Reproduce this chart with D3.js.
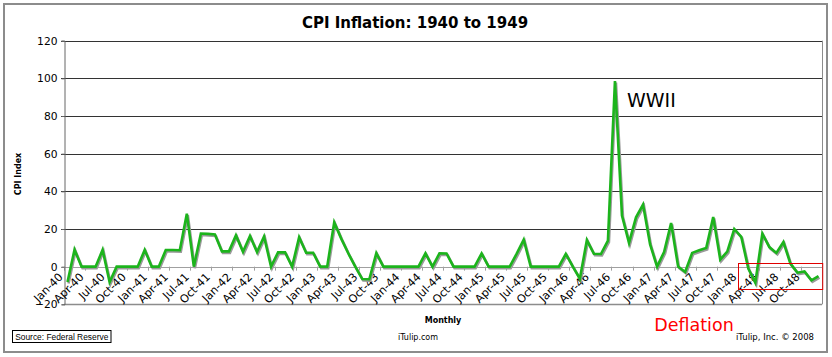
<!DOCTYPE html>
<html><head><meta charset="utf-8">
<script src="https://cdn.jsdelivr.net/npm/d3@7"></script>
<style>
body{margin:0;background:#fff}
svg{display:block}
text{font-family:"DejaVu Sans",Verdana,sans-serif}
</style>
</head><body>
<svg id="chart" width="832" height="357"></svg>
<script>
// ---- data ----
const years = ["40","41","42","43","44","45","46","47","48"];
const months = ["Jan","Feb","Mar","Apr","May","Jun","Jul","Aug","Sep","Oct","Nov","Dec"];
const cpi1940 = [-8.2, 9.0, 0, 0, 0, 8.9, -8.2, 0, 0, 0, 0, 8.9];
const cpi1941 = [0, 0, 8.8, 8.8, 8.7, 28.1, 0, 17.6, 17.4, 17.1, 8.1, 8.1];
const cpi1942 = [16.6, 7.9, 16.3, 7.8, 16.0, 0, 7.6, 7.6, 0, 15.6, 7.4, 7.4];
const cpi1943 = [0, 0, 23.5, 14.9, 7.1, 0, -6.6, -6.7, 7.2, 0, 0, 0];
const cpi1944 = [0, 0, 0, 7.1, 0, 7.1, 7.0, 0, 0, 0, 0, 7.0];
const cpi1945 = [0, 0, 0, 0, 6.9, 14.3, 0, 0, 0, 0, 0, 6.8];
const cpi1946 = [0, -6.4, 14.1, 6.8, 6.7, 13.8, 98.6, 27.1, 12.6, 26.2, 33.0, 11.9];
const cpi1947 = [0, 7.8, 23.2, 0, -2.8, 7.3, 8.7, 9.9, 26.4, 3.8, 8.0, 20.0];
const cpi1948 = [15.8, -1.0, -8.5, 17.5, 10.4, 7.3, 13.1, 1.6, -3.2, -2.5, -7.3, -5.0];
const yTicks = [-20, 0, 20, 40, 60, 80, 100, 120];
const gridValues = [20, 40, 60, 80, 100, 120];

const categories = years.flatMap(y => months.map(m => m + "-" + y));
const values = [].concat(cpi1940, cpi1941, cpi1942, cpi1943, cpi1944, cpi1945, cpi1946, cpi1947, cpi1948);
const xTickLabels = categories.filter((c, i) => i % 3 === 0);
const series = categories.map((c, i) => ({cat: c, v: values[i]}));

// ---- layout ----
const svg = d3.select("#chart");
const L = 64, R = 822, T = 40.7, B = 304.3;
const x = d3.scaleBand().domain(categories).range([L, R]).paddingInner(0).paddingOuter(0);
const y = d3.scaleLinear().domain([-20, 120]).range([B, T]);
const bw = x.bandwidth();
const cx = c => x(c) + bw / 2;
const crisp = v => Math.round(v) + 0.5;

svg.append("rect").attr("x", 0).attr("y", 0).attr("width", 832).attr("height", 357).attr("fill", "#fff");
// outer frame
svg.append("rect").attr("x", 4).attr("y", 4).attr("width", 823).attr("height", 348)
  .attr("fill", "none").attr("stroke", "#8c8c8c").attr("stroke-width", 2);

// gridlines
svg.append("g").selectAll("line").data(gridValues).join("line")
  .attr("x1", L - 3).attr("x2", R)
  .attr("y1", d => crisp(y(d))).attr("y2", d => crisp(y(d)))
  .attr("stroke", "#333").attr("stroke-width", 1);

// plot border right & bottom
svg.append("line").attr("x1", crisp(R)).attr("x2", crisp(R)).attr("y1", T).attr("y2", B)
  .attr("stroke", "#8c8c8c").attr("stroke-width", 1);
svg.append("line").attr("x1", L).attr("x2", R).attr("y1", crisp(B)).attr("y2", crisp(B))
  .attr("stroke", "#8c8c8c").attr("stroke-width", 1.5);

// zero axis line
svg.append("line").attr("x1", L - 3).attr("x2", R).attr("y1", crisp(y(0))).attr("y2", crisp(y(0)))
  .attr("stroke", "#a0a0a0").attr("stroke-width", 1);
// category tick marks (every 3 months, at boundaries)
svg.append("g").selectAll("line").data(xTickLabels).join("line")
  .attr("x1", d => crisp(x(d))).attr("x2", d => crisp(x(d)))
  .attr("y1", y(0)).attr("y2", y(0) + 4)
  .attr("stroke", "#a0a0a0").attr("stroke-width", 1);

// y axis
const yAxis = svg.append("g").attr("transform", `translate(${L + 0.5},0)`)
  .call(d3.axisLeft(y).tickValues(yTicks).tickSize(3).tickPadding(4));
yAxis.select(".domain").attr("stroke", "#666");
yAxis.selectAll(".tick line").attr("stroke", "#666");
yAxis.selectAll("text").attr("font-size", "10.7px").attr("fill", "#000")
  .style("font-family", '"DejaVu Sans",Verdana,sans-serif');

// x labels (rotated)
const xAxis = svg.append("g").attr("transform", `translate(0,${y(0)})`)
  .call(d3.axisBottom(x).tickValues(xTickLabels).tickSize(0).tickPadding(0));
xAxis.select(".domain").remove();
xAxis.selectAll(".tick text")
  .attr("font-size", "11.2px").attr("fill", "#000")
  .style("font-family", '"DejaVu Sans",Verdana,sans-serif')
  .attr("text-anchor", "end").attr("dy", 0).attr("y", 0)
  .attr("transform", "translate(-4,11) rotate(-45)");

// line with shadow
const line = d3.line().x(d => cx(d.cat)).y(d => y(d.v));
svg.append("path").datum(series).attr("d", line)
  .attr("transform", "translate(1,1.5)")
  .attr("fill", "none").attr("stroke", "#9a9a9a").attr("stroke-width", 2.6)
  .attr("stroke-linejoin", "miter");
svg.append("path").datum(series).attr("d", line)
  .attr("fill", "none").attr("stroke", "#1cb41c").attr("stroke-width", 2.6)
  .attr("stroke-linejoin", "miter");

// deflation box
svg.append("rect")
  .attr("x", crisp(x("Jan-48"))).attr("y", crisp(263))
  .attr("width", R - x("Jan-48")).attr("height", 26)
  .attr("fill", "none").attr("stroke", "#e00000").attr("stroke-width", 1);

// texts
svg.append("text").attr("x", 415).attr("y", 28).attr("text-anchor", "middle")
  .attr("font-size", "15px").attr("font-weight", "bold").text("CPI Inflation: 1940 to 1949");
svg.append("text").attr("transform", "translate(21,174) rotate(-90)").attr("text-anchor", "middle")
  .attr("font-size", "8px").attr("font-weight", "bold").text("CPI Index");
svg.append("text").attr("x", 443).attr("y", 323).attr("text-anchor", "middle")
  .attr("font-size", "8px").attr("font-weight", "bold").text("Monthly");
svg.append("text").attr("x", 418).attr("y", 340).attr("text-anchor", "middle")
  .attr("font-size", "8px").text("iTulip.com");
svg.append("text").attr("x", 775).attr("y", 340).attr("text-anchor", "middle")
  .attr("font-size", "8.5px").text("iTulip, Inc. © 2008");
svg.append("text").attr("x", 627).attr("y", 107)
  .attr("font-size", "19px").text("WWII");
svg.append("text").attr("x", 694).attr("y", 331).attr("text-anchor", "middle")
  .attr("font-size", "17.5px").attr("fill", "#ff0000").text("Deflation");

// source box
svg.append("rect").attr("x", 12.5).attr("y", 330.5).attr("width", 98.5).attr("height", 12)
  .attr("fill", "#fff").attr("stroke", "#000").attr("stroke-width", 1);
svg.append("text").attr("x", 61.75).attr("y", 339.8).attr("text-anchor", "middle")
  .attr("font-size", "8.4px")
  .style("font-family", '"Liberation Sans",Arial,sans-serif').text("Source:  Federal Reserve");
</script>
</body></html>
